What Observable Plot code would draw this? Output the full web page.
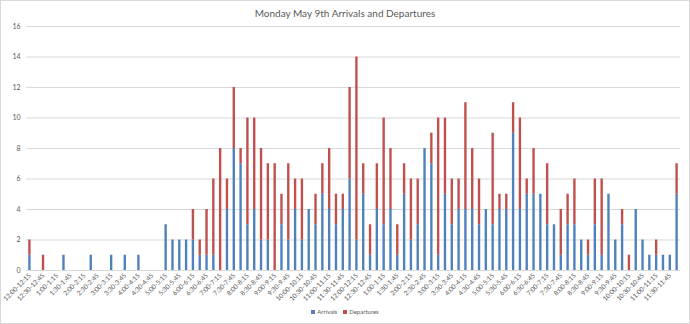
<!DOCTYPE html>
<html>
<head>
<meta charset="utf-8">
<script src="https://cdn.jsdelivr.net/npm/d3@7"></script>
<script src="https://cdn.jsdelivr.net/npm/@observablehq/plot@0.6"></script>
<style>
  html, body { margin: 0; padding: 0; background: #fff; }
  #wrap { position: relative; width: 690px; height: 324px; overflow: hidden; font-family: Lato, "Liberation Sans", sans-serif; }
  #title { position: absolute; left: 0; top: 5px; width: 690px; text-align: center; font-size: 10px; color: #595959; line-height: 16px; }
  #chart { position: absolute; left: 0; top: 20px; }
  #legend { position: absolute; left: 0; top: 308px; width: 690px; display: flex; justify-content: center; align-items: center; gap: 6px; font-size: 6px; color: #595959; line-height: 8px; }
  #legend .sw { display: inline-block; width: 4px; height: 4px; margin-right: 2px; vertical-align: middle; }
  #border { position: absolute; left: 0; top: 0; width: 688px; height: 322px; border: 1px solid #d9d9d9; pointer-events: none; }
</style>
</head>
<body>
<div id="wrap">
  <div id="title">Monday May 9th Arrivals and Departures</div>
  <div id="chart"></div>
  <div id="legend">
    <span><span class="sw" style="background:#4F81BD"></span>Arrivals</span>
    <span><span class="sw" style="background:#C0504D"></span>Departures</span>
  </div>
  <div id="border"></div>
</div>
<script>
const timeLabels = [
  "12:00-12:15","12:15-12:30","12:30-12:45","12:45-1:00",
  "1:00-1:15","1:15-1:30","1:30-1:45","1:45-2:00",
  "2:00-2:15","2:15-2:30","2:30-2:45","2:45-3:00",
  "3:00-3:15","3:15-3:30","3:30-3:45","3:45-4:00",
  "4:00-4:15","4:15-4:30","4:30-4:45","4:45-5:00",
  "5:00-5:15","5:15-5:30","5:30-5:45","5:45-6:00",
  "6:00-6:15","6:15-6:30","6:30-6:45","6:45-7:00",
  "7:00-7:15","7:15-7:30","7:30-7:45","7:45-8:00",
  "8:00-8:15","8:15-8:30","8:30-8:45","8:45-9:00",
  "9:00-9:15","9:15-9:30","9:30-9:45","9:45-10:00",
  "10:00-10:15","10:15-10:30","10:30-10:45","10:45-11:00",
  "11:00-11:15","11:15-11:30","11:30-11:45","11:45-12:00",
  "12:00-12:15","12:15-12:30","12:30-12:45","12:45-1:00",
  "1:00-1:15","1:15-1:30","1:30-1:45","1:45-2:00",
  "2:00-2:15","2:15-2:30","2:30-2:45","2:45-3:00",
  "3:00-3:15","3:15-3:30","3:30-3:45","3:45-4:00",
  "4:00-4:15","4:15-4:30","4:30-4:45","4:45-5:00",
  "5:00-5:15","5:15-5:30","5:30-5:45","5:45-6:00",
  "6:00-6:15","6:15-6:30","6:30-6:45","6:45-7:00",
  "7:00-7:15","7:15-7:30","7:30-7:45","7:45-8:00",
  "8:00-8:15","8:15-8:30","8:30-8:45","8:45-9:00",
  "9:00-9:15","9:15-9:30","9:30-9:45","9:45-10:00",
  "10:00-10:15","10:15-10:30","10:30-10:45","10:45-11:00",
  "11:00-11:15","11:15-11:30","11:30-11:45","11:45-12:00"
];

const arrivals = [
  1,0,0,0, 0,1,0,0, 0,1,0,0, 1,0,1,0,
  1,0,0,0, 3,2,2,2, 2,1,1,1, 0,4,8,7,
  3,4,2,2, 0,3,2,4, 2,4,3,5, 4,3,4,6,
  2,5,1,4, 3,4,1,5, 2,3,8,7, 1,5,3,4,
  4,4,3,4, 3,4,4,9, 4,5,5,5, 3,3,1,3,
  3,2,1,3, 1,5,2,3, 0,4,2,1, 1,1,1,5
];

const departures = [
  1,0,1,0, 0,0,0,0, 0,0,0,0, 0,0,0,0,
  0,0,0,0, 0,0,0,0, 2,1,3,5, 8,2,4,1,
  7,6,6,5, 7,2,5,2, 4,0,2,2, 4,2,1,6,
  12,2,2,3, 7,4,2,2, 4,3,0,2, 9,5,3,2,
  7,4,3,0, 6,1,1,2, 6,1,3,0, 4,0,3,2,
  3,0,1,3, 5,0,0,1, 1,0,0,0, 1,0,0,2
];

const seriesNames = ["Arrivals", "Departures"];
const seriesColors = ["#4F81BD", "#C0504D"];
const yTicks = [0, 2, 4, 6, 8, 10, 12, 14, 16];

const idx = timeLabels.map((_, i) => i);
const rows = [];
idx.forEach(i => {
  rows.push({i, series: seriesNames[0], v: arrivals[i]});
  rows.push({i, series: seriesNames[1], v: departures[i]});
});

const chart = Plot.plot({
  width: 690,
  height: 284,
  marginTop: 6,
  marginBottom: 34,
  marginLeft: 26,
  marginRight: 10,
  style: {fontFamily: "Lato, 'Liberation Sans', sans-serif", fontSize: "7px", color: "#595959", background: "transparent"},
  x: {domain: idx, paddingInner: 0.65, paddingOuter: 0.325, axis: null},
  y: {domain: [0, 16], axis: null},
  color: {domain: seriesNames, range: seriesColors},
  marks: [
    Plot.ruleY(yTicks, {stroke: "#d9d9d9", strokeWidth: 1}),
    Plot.barY(rows, {x: "i", y: "v", fill: "series"}),
    Plot.axisY({ticks: yTicks, tickSize: 0, tickPadding: 6, label: null, fontSize: 7}),
    Plot.axisX({ticks: idx.filter(i => i % 2 === 0), tickSize: 0, tickPadding: 4, tickRotate: -45,
                tickFormat: i => timeLabels[i], label: null, fontSize: 6.5})
  ]
});
document.getElementById("chart").appendChild(chart);
</script>
</body>
</html>
